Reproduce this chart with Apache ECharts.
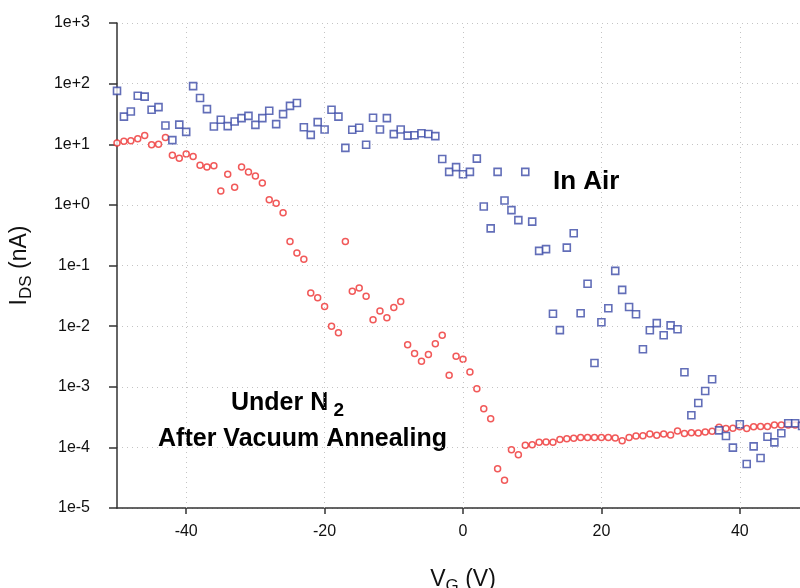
<!DOCTYPE html>
<html>
<head>
<meta charset="utf-8">
<script src="https://cdn.jsdelivr.net/npm/echarts@6/dist/echarts.min.js"></script>
<style>
  html, body { margin: 0; padding: 0; background: #fff; }
  #chart { width: 800px; height: 588px; }
</style>
</head>
<body>
<div id="chart"></div>
<script>
"use strict";

// gate voltage steps (V)
const vg = [
    -50, -49, -48, -47, -46, -45, -44, -43, -42, -41,
    -40, -39, -38, -37, -36, -35, -34, -33, -32, -31,
    -30, -29, -28, -27, -26, -25, -24, -23, -22, -21,
    -20, -19, -18, -17, -16, -15, -14, -13, -12, -11,
    -10, -9, -8, -7, -6, -5, -4, -3, -2, -1,
    0, 1, 2, 3, 4, 5, 6, 7, 8, 9,
    10, 11, 12, 13, 14, 15, 16, 17, 18, 19,
    20, 21, 22, 23, 24, 25, 26, 27, 28, 29,
    30, 31, 32, 33, 34, 35, 36, 37, 38, 39,
    40, 41, 42, 43, 44, 45, 46, 47, 48, 49
];

// I_DS (nA) measured in air
const ids_air = [
    76, 28.6, 34.7, 63, 61, 37, 41, 20.4, 11.7, 21.1,
    16, 91, 58, 38, 19.6, 25.3, 19.9, 23.7, 27, 29.4,
    20.9, 27, 35.6, 21.5, 31.4, 43, 48, 19.1, 14.3, 23.2,
    17.5, 37, 28.6, 8.7, 17.3, 18.7, 9.8, 27.3, 17.5, 27,
    14.7, 17.5, 13.9, 14.1, 15.2, 14.8, 13.6, 5.7, 3.5, 4.2,
    3.2, 3.5, 5.8, 0.94, 0.41, 3.5, 1.18, 0.82, 0.56, 3.5,
    0.53, 0.174, 0.186, 0.016, 0.0086, 0.197, 0.341, 0.0163, 0.05, 0.00247,
    0.0116, 0.0197, 0.0814, 0.0396, 0.0207, 0.0157, 0.00416, 0.00856, 0.0112, 0.00708,
    0.0103, 0.0089, 0.00173, 0.000339, 0.00054, 0.00085, 0.00133, 0.000191, 0.000154, 0.0000989,
    0.00024, 0.0000532, 0.000104, 0.0000668, 0.00015, 0.000121, 0.000171, 0.00025, 0.00025, 0.000225
];

// I_DS (nA) under N2 after vacuum annealing
const ids_n2 = [
    10.5, 11.2, 11.4, 12.3, 13.9, 9.8, 10.0, 12.9, 6.6, 5.9,
    6.9, 6.3, 4.5, 4.2, 4.4, 1.7, 3.2, 1.96, 4.2, 3.5,
    3.0, 2.3, 1.21, 1.06, 0.74, 0.248, 0.161, 0.127, 0.0353, 0.0295,
    0.021, 0.00996, 0.0078, 0.248, 0.0377, 0.0427, 0.0311, 0.0128, 0.0178, 0.0138,
    0.0202, 0.0254, 0.00495, 0.00352, 0.00263, 0.00339, 0.00514, 0.00708, 0.00155, 0.00318,
    0.00284, 0.00175, 0.00093, 0.000435, 0.000297, 0.0000445, 0.0000286, 0.0000916, 0.0000758, 0.000108,
    0.000111, 0.000121, 0.000123, 0.000121, 0.000135, 0.000139, 0.000142, 0.000145, 0.000145, 0.000145,
    0.000146, 0.000146, 0.000143, 0.000129, 0.000146, 0.000154, 0.000156, 0.000166, 0.000158, 0.000166,
    0.00016, 0.000187, 0.000169, 0.000175, 0.000173, 0.00018, 0.000185, 0.000214, 0.000204, 0.000206,
    0.000218, 0.000204, 0.000218, 0.000222, 0.000222, 0.000233, 0.000235, 0.000235, 0.000235, 0.00024
];

const x_ticks = [-40, -20, 0, 20, 40];

const font = 'Liberation Sans';

const chartDom = document.getElementById('chart');
const myChart = echarts.init(chartDom, null, { renderer: 'canvas' });

const pairs = (ys) => vg.map((v, i) => [v, ys[i]]);

const gridLine = { color: '#c4c4c4', type: [1, 4], width: 1 };

let option = {
    animation: false,
    backgroundColor: '#fff',
    grid: { left: 117, top: 23, width: 692, height: 485, outerBoundsMode: 'none', containLabel: false },
    xAxis: {
        type: 'value',
        min: -50,
        max: 50,
        interval: 10,
        name: '{v|V}{s|G}{v| (V)}',
        nameLocation: 'middle',
        nameGap: 57,
        nameTextStyle: {
            rich: {
                v: { fontFamily: font, fontSize: 23, color: '#111', lineHeight: 30, verticalAlign: 'middle' },
                s: { fontFamily: font, fontSize: 17, color: '#111', lineHeight: 17, verticalAlign: 'bottom' }
            }
        },
        axisLine: { show: true, onZero: false, lineStyle: { color: '#333', width: 1.5 } },
        axisTick: { show: true, length: 6, customValues: x_ticks, lineStyle: { color: '#333', width: 1.5 } },
        axisLabel: { customValues: x_ticks, fontFamily: font, fontSize: 16, color: '#111', margin: 16 },
        splitLine: { show: false }
    },
    yAxis: {
        type: 'log',
        logBase: 10,
        min: 1e-5,
        max: 1e3,
        interval: 1,
        name: '{v|I}{s|DS}{v| (nA)}',
        nameLocation: 'middle',
        nameRotate: 90,
        nameGap: 82,
        nameTextStyle: {
            rich: {
                v: { fontFamily: font, fontSize: 23, color: '#111', lineHeight: 30, verticalAlign: 'middle' },
                s: { fontFamily: font, fontSize: 17, color: '#111', lineHeight: 17, verticalAlign: 'bottom' }
            }
        },
        axisLine: { show: true, onZero: false, lineStyle: { color: '#333', width: 1.5 } },
        axisTick: { show: true, length: 8, lineStyle: { color: '#333', width: 1.5 } },
        axisLabel: {
            fontFamily: font,
            fontSize: 16,
            color: '#111',
            margin: 27,
            formatter: (val) => {
                const e = Math.round(Math.log10(val));
                return '1e' + (e >= 0 ? '+' : '-') + Math.abs(e);
            }
        },
        splitLine: { show: true, lineStyle: gridLine },
        minorSplitLine: { show: false }
    },
    series: [
        {
            name: 'Under N2',
            type: 'scatter',
            symbol: 'circle',
            symbolSize: 6,
            clip: false,
            itemStyle: { color: '#fff', borderColor: '#ee3030', borderWidth: 1.5 },
            data: pairs(ids_n2),
            z: 3,
            markLine: {
                silent: true,
                symbol: 'none',
                label: { show: false },
                lineStyle: gridLine,
                data: x_ticks.map(v => ({ xAxis: v }))
            }
        },
        {
            name: 'In Air',
            type: 'scatter',
            symbol: 'rect',
            symbolSize: 7,
            clip: false,
            itemStyle: { color: '#fff', borderColor: '#3b4aa6', borderWidth: 1.6 },
            data: pairs(ids_air),
            z: 4
        }
    ],
    graphic: [
        {
            type: 'text',
            x: 553,
            y: 182,
            style: {
                text: 'In Air',
                font: 'bold 26px ' + font,
                fill: '#000',
                textVerticalAlign: 'middle'
            }
        },
        {
            type: 'text',
            x: 231,
            y: 403,
            style: {
                text: '{b|Under N}{s| 2}',
                textVerticalAlign: 'middle',
                rich: {
                    b: { font: 'bold 25px ' + font, fill: '#000', lineHeight: 34, verticalAlign: 'middle' },
                    s: { font: 'bold 19px ' + font, fill: '#000', lineHeight: 19, verticalAlign: 'bottom' }
                }
            }
        },
        {
            type: 'text',
            x: 447,
            y: 439,
            style: {
                text: 'After Vacuum Annealing',
                font: 'bold 25px ' + font,
                fill: '#000',
                textAlign: 'right',
                textVerticalAlign: 'middle'
            }
        }
    ]
};

option && myChart.setOption(option);
</script>
</body>
</html>
